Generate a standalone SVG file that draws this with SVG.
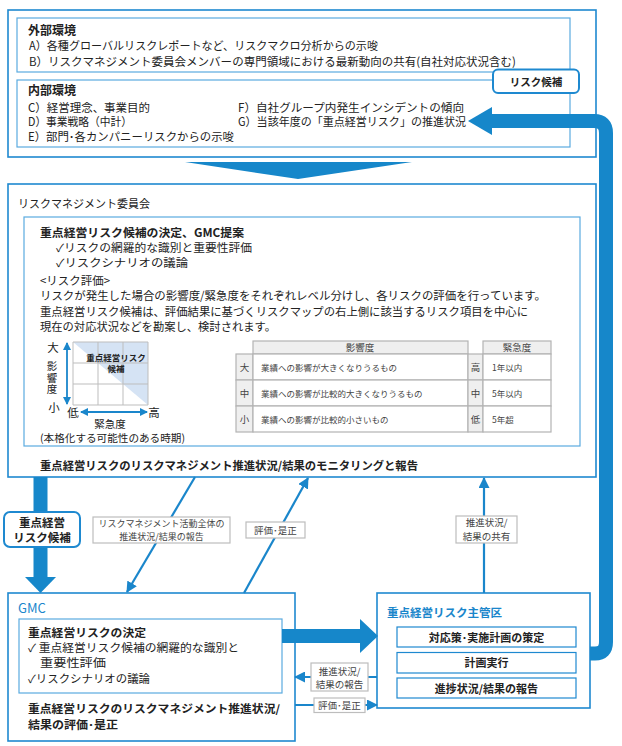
<svg xmlns="http://www.w3.org/2000/svg" width="622" height="746" viewBox="0 0 622 746">
<style>
text{font-family:"Noto Sans CJK JP","Noto Sans",sans-serif;fill:#222}
.b{font-weight:bold}
.f12{font-size:12px}.f11{font-size:11.5px}.f11s{font-size:11px}.f10{font-size:10.5px}.f9{font-size:9.5px}.f8{font-size:8.5px}
.blue{fill:#1a86cb}
.lab{fill:#444}
.mid{text-anchor:middle}
.outer{fill:#fff;stroke:#1e89d0;stroke-width:1.6}
.inner{fill:#fff;stroke:#5aabe0;stroke-width:1.2}
.lbox{fill:#fff;stroke:#bdbdbd;stroke-width:1.2}
.cand{fill:#fff;stroke:#1e89d0;stroke-width:2}
.conn{fill:none;stroke:#1a86cb;stroke-width:2.2}
.thick{fill:#1687ca}
.tc{stroke:#b3b3b3;stroke-width:1.2}
.grey{fill:#efefef}
.wh{fill:#fff}
.grid{stroke:#bdbdbd;stroke-width:1;fill:none}
</style>
<defs>
<marker id="ah" markerUnits="userSpaceOnUse" markerWidth="11" markerHeight="11" refX="10" refY="5.5" orient="auto"><path d="M0,0 L11,5.5 L0,11 z" fill="#1a86cb"/></marker>
<marker id="ahs" markerUnits="userSpaceOnUse" markerWidth="8" markerHeight="8" refX="7" refY="4" orient="auto"><path d="M0,0 L8,4 L0,8 z" fill="#1a86cb"/></marker>
</defs>

<g id="environment">
<rect class="outer" x="8" y="10" width="588" height="147"/>
<rect class="inner" x="17" y="18" width="553" height="54"/>
<text class="b f12" x="28" y="35">外部環境</text>
<text class="f11" x="29" y="49.5" textLength="349" lengthAdjust="spacingAndGlyphs">A）各種グローバルリスクレポートなど、リスクマクロ分析からの示唆</text>
<text class="f11" x="29" y="65.5" textLength="487" lengthAdjust="spacingAndGlyphs">B）リスクマネジメント委員会メンバーの専門領域における最新動向の共有(自社対応状況含む)</text>
<rect class="inner" x="17" y="80" width="553" height="67"/>
<text class="b f12" x="28" y="95">内部環境</text>
<text class="f11" x="28" y="111.5" textLength="122" lengthAdjust="spacingAndGlyphs">C）経営理念、事業目的</text>
<text class="f11" x="28" y="126" textLength="104" lengthAdjust="spacingAndGlyphs">D）事業戦略（中計）</text>
<text class="f11" x="28" y="141" textLength="206" lengthAdjust="spacingAndGlyphs">E）部門･各カンパニーリスクからの示唆</text>
<text class="f11" x="238" y="111.5" textLength="226" lengthAdjust="spacingAndGlyphs">F）自社グループ内発生インシデントの傾向</text>
<text class="f11" x="238" y="126" textLength="228" lengthAdjust="spacingAndGlyphs">G）当該年度の「重点経営リスク」の推進状況</text>
</g>

<g id="candidate-top">
<rect class="cand" x="493" y="69.5" width="86" height="23.5" rx="5"/>
<text class="b f10 mid" x="536" y="85.5">リスク候補</text>
</g>

<g id="committee">
<rect class="outer" x="8" y="184" width="588" height="293"/>
<text class="f11" x="18" y="208" textLength="132" lengthAdjust="spacingAndGlyphs">リスクマネジメント委員会</text>
<rect class="inner" x="24" y="217" width="556" height="229"/>
<text class="b f11" x="40" y="236.6" textLength="204" lengthAdjust="spacingAndGlyphs">重点経営リスク候補の決定、GMC提案</text>
<text class="f11s" x="56" y="251.6" textLength="196" lengthAdjust="spacingAndGlyphs">✓リスクの網羅的な識別と重要性評価</text>
<text class="f11s" x="56" y="266.6" textLength="132" lengthAdjust="spacingAndGlyphs">✓リスクシナリオの議論</text>
<text class="f11" x="40" y="284.5" textLength="70" lengthAdjust="spacingAndGlyphs">&lt;リスク評価&gt;</text>
<text class="f11" x="40" y="299.5" textLength="506" lengthAdjust="spacingAndGlyphs">リスクが発生した場合の影響度/緊急度をそれぞれレベル分けし、各リスクの評価を行っています。</text>
<text class="f11" x="40" y="315.5" textLength="488" lengthAdjust="spacingAndGlyphs">重点経営リスク候補は、評価結果に基づくリスクマップの右上側に該当するリスク項目を中心に</text>
<text class="f11" x="40" y="330.5" textLength="236" lengthAdjust="spacingAndGlyphs">現在の対応状況などを勘案し、検討されます。</text>

<g id="risk-map">
<polygon points="73,342 148,342 148,405" fill="#d5e3f4"/>
<path class="grid" d="M73,342 H148 V405 H73 Z M98,342 V405 M123,342 V405 M73,363 H148 M73,384 H148"/>
<text class="b f8 mid" x="116" y="361">重点経営リスク</text>
<text class="b f8 mid" x="116" y="372">候補</text>
<line class="conn" x1="67" y1="372" x2="67" y2="343" marker-end="url(#ahs)" style="stroke-width:1.8"/>
<line class="conn" x1="67" y1="372" x2="67" y2="404" marker-end="url(#ahs)" style="stroke-width:1.8"/>
<line class="conn" x1="114" y1="412" x2="81" y2="412" marker-end="url(#ahs)" style="stroke-width:1.8"/>
<line class="conn" x1="114" y1="412" x2="147" y2="412" marker-end="url(#ahs)" style="stroke-width:1.8"/>
<text class="f11 mid" x="53" y="351.5">大</text>
<text x="52" y="361" writing-mode="vertical-rl" style="font-size:10.5px;letter-spacing:1px">影響度</text>
<text class="f11 mid" x="54" y="411.5">小</text>
<text class="f11 mid" x="73" y="416.5">低</text>
<text class="f11 mid" x="154" y="416.5">高</text>
<text class="f10 mid" x="110" y="428">緊急度</text>
<text class="f10" x="40" y="442" textLength="145" lengthAdjust="spacingAndGlyphs">(本格化する可能性のある時期)</text>
</g>

<g id="risk-table">
<rect class="tc grey" x="253" y="341" width="215" height="13"/>
<rect class="tc grey" x="483" y="341" width="68" height="13"/>
<rect class="tc grey" x="236" y="354" width="17" height="26"/>
<rect class="tc wh" x="253" y="354" width="215" height="26"/>
<rect class="tc grey" x="468" y="354" width="15" height="26"/>
<rect class="tc wh" x="483" y="354" width="68" height="26"/>
<rect class="tc grey" x="236" y="380" width="17" height="26"/>
<rect class="tc wh" x="253" y="380" width="215" height="26"/>
<rect class="tc grey" x="468" y="380" width="15" height="26"/>
<rect class="tc wh" x="483" y="380" width="68" height="26"/>
<rect class="tc grey" x="236" y="406" width="17" height="26"/>
<rect class="tc wh" x="253" y="406" width="215" height="26"/>
<rect class="tc grey" x="468" y="406" width="15" height="26"/>
<rect class="tc wh" x="483" y="406" width="68" height="26"/>
<text class="f9 mid lab" x="360" y="351">影響度</text>
<text class="f9 mid lab" x="517" y="351">緊急度</text>
<text class="f9 mid lab" x="244.5" y="370.5">大</text>
<text class="f9 mid lab" x="244.5" y="396.5">中</text>
<text class="f9 mid lab" x="244.5" y="422.5">小</text>
<text class="f8 lab" x="261" y="370.5">業績への影響が大きくなりうるもの</text>
<text class="f8 lab" x="261" y="396.5">業績への影響が比較的大きくなりうるもの</text>
<text class="f8 lab" x="261" y="422.5">業績への影響が比較的小さいもの</text>
<text class="f9 mid lab" x="475.5" y="370.5">高</text>
<text class="f9 mid lab" x="475.5" y="396.5">中</text>
<text class="f9 mid lab" x="475.5" y="422.5">低</text>
<text class="f8 lab" x="492" y="370.5">1年以内</text>
<text class="f8 lab" x="492" y="396.5">5年以内</text>
<text class="f8 lab" x="492" y="422.5">5年超</text>
</g>

<text class="b f11" x="40" y="469.5" textLength="378" lengthAdjust="spacingAndGlyphs">重点経営リスクのリスクマネジメント推進状況/結果のモニタリングと報告</text>
</g>

<g id="gmc">
<rect class="outer" x="8" y="593" width="287" height="148"/>
<text class="blue" x="18" y="613" style="font-size:13px">GMC</text>
<rect class="inner" x="19" y="619" width="263" height="74"/>
<text class="b f11s" x="28" y="636.8" textLength="118" lengthAdjust="spacingAndGlyphs">重点経営リスクの決定</text>
<text class="f11s" x="28" y="651.8" textLength="211" lengthAdjust="spacingAndGlyphs">✓ 重点経営リスク候補の網羅的な識別と</text>
<text class="f11s" x="40" y="666.6" textLength="66" lengthAdjust="spacingAndGlyphs">重要性評価</text>
<text class="f11s" x="28" y="682.5" textLength="122" lengthAdjust="spacingAndGlyphs">✓リスクシナリオの議論</text>
<text class="b f11s" x="28" y="712.5" textLength="252" lengthAdjust="spacingAndGlyphs">重点経営リスクのリスクマネジメント推進状況/</text>
<text class="b f11s" x="28" y="728.5" textLength="90" lengthAdjust="spacingAndGlyphs">結果の評価･是正</text>
</g>

<g id="risk-owner">
<rect class="outer" x="377" y="593" width="213" height="115"/>
<text class="f11 blue" x="387" y="616.5" textLength="115" lengthAdjust="spacingAndGlyphs" style="font-weight:600">重点経営リスク主管区</text>
<rect class="inner" x="397" y="627" width="179" height="20" style="stroke:#1e89d0"/>
<text class="b f11s mid" x="486.5" y="641.5">対応策･実施計画の策定</text>
<rect class="inner" x="397" y="652.5" width="179" height="20.5" style="stroke:#1e89d0"/>
<text class="b f11s mid" x="486.5" y="667">計画実行</text>
<rect class="inner" x="397" y="678" width="179" height="20" style="stroke:#1e89d0"/>
<text class="b f11s mid" x="486.5" y="692.5">進捗状況/結果の報告</text>
</g>

<g id="connectors">
<polygon class="thick" points="185,162 412,162 298,179"/>
<path d="M590,653.5 H595 Q606,653.5 606,642 V133 Q606,121 594,121 H490" fill="none" stroke="#1687ca" stroke-width="14"/>
<polygon class="thick" points="468,121 492,107 492,135"/>
<rect class="thick" x="33.5" y="477" width="14" height="101"/>
<polygon class="thick" points="25,577 56,577 40.5,593"/>
<rect class="thick" x="282" y="629" width="79" height="14"/>
<polygon class="thick" points="360,619 378,636 360,653"/>
<line class="conn" x1="195" y1="477" x2="127" y2="592" marker-end="url(#ah)"/>
<line class="conn" x1="244" y1="593" x2="308" y2="478" marker-end="url(#ah)"/>
<line class="conn" x1="484" y1="593" x2="484" y2="478" marker-end="url(#ah)"/>
<line class="conn" x1="377" y1="677" x2="295" y2="677" marker-end="url(#ah)"/>
<line class="conn" x1="295" y1="705" x2="377" y2="705" marker-end="url(#ah)"/>
</g>

<g id="candidate-left">
<rect class="cand" x="4" y="512" width="76" height="35" rx="6"/>
<text class="b f11 mid" x="42" y="526.5">重点経営</text>
<text class="b f11 mid" x="42" y="541.5">リスク候補</text>
</g>
<g id="label-report-all">
<rect class="lbox" x="93" y="517" width="137" height="26"/>
<text class="mid lab" x="161.5" y="526.5" style="font-size:9px">リスクマネジメント活動全体の</text>
<text class="mid lab" x="161.5" y="539.5" style="font-size:9px">推進状況/結果の報告</text>
</g>
<g id="label-eval-1">
<rect class="lbox" x="246" y="522" width="59" height="16"/>
<text class="f9 mid lab" x="275.5" y="533.5">評価･是正</text>
</g>
<g id="label-share">
<rect class="lbox" x="456" y="516" width="61" height="27"/>
<text class="f9 mid lab" x="486.5" y="526">推進状況/</text>
<text class="f9 mid lab" x="486.5" y="539.5">結果の共有</text>
</g>
<g id="label-report-owner">
<rect class="lbox" x="311" y="663" width="57" height="28"/>
<text class="f9 mid lab" x="339.5" y="674.5">推進状況/</text>
<text class="f9 mid lab" x="339.5" y="687.5">結果の報告</text>
</g>
<g id="label-eval-2">
<rect class="lbox" x="314" y="698" width="51" height="14.5"/>
<text class="f9 mid lab" x="339.5" y="708.8">評価･是正</text>
</g>
</svg>
